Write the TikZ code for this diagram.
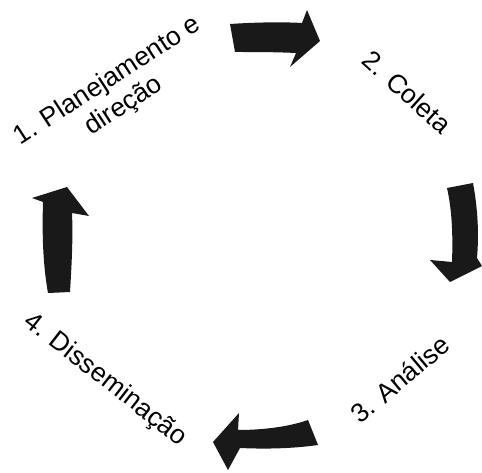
\documentclass[tikz,border=0pt]{standalone}
\usepackage{fontspec}
\setmainfont{Liberation Sans}
\begin{document}
\begin{tikzpicture}[x=1pt,y=1pt,
  lbl/.style={inner sep=0pt, font=\fontsize{26.5}{30}\selectfont, align=center},
  blk/.style={fill=black!90}]
\useasboundingbox (0,0) rectangle (482,472);
\begin{scope}[shift={(0,472)}, yscale=-1]
% arrow 1 (top, pointing right)
\fill[blk] (230,24) .. controls (260,22) and (285,22) .. (302,23) -- (307,10) -- (320,41) -- (290,67) -- (296,53) .. controls (275,52) and (255,52) .. (235,52) -- cycle;
% arrow 2 (right, pointing down)
\fill[blk] (447,188) -- (473,183) .. controls (478,210) and (479,235) .. (477,258) -- (482,266) -- (450,282) -- (430,260) -- (452,262) .. controls (453,235) and (452,210) .. (447,188) -- cycle;
% arrow 3 (bottom, pointing left)
\fill[blk] (308,420) -- (318,445) .. controls (290,449) and (262,449) .. (240,448) -- (228,470) -- (213,442) -- (239,413) -- (238,430) .. controls (262,430) and (288,427) .. (308,420) -- cycle;
% arrow 4 (left, pointing up)
\fill[blk] (48,293) -- (70,292) .. controls (72,260) and (73,235) .. (72,213) -- (89,216) -- (67,187) -- (32,198) -- (43,202) .. controls (42,235) and (43,265) .. (48,293) -- cycle;
\end{scope}
\node[lbl, rotate=33] (t1) at (116,378) {1. Planejamento e\\direção};
\node[lbl, rotate=-42] (t2) at (407,380) {2. Coleta};
\node[lbl, rotate=40] (t3) at (400,93) {3. Análise};
\node[lbl, rotate=-38] (t4) at (105,92) {4. Disseminação};
\end{tikzpicture}
\end{document}
